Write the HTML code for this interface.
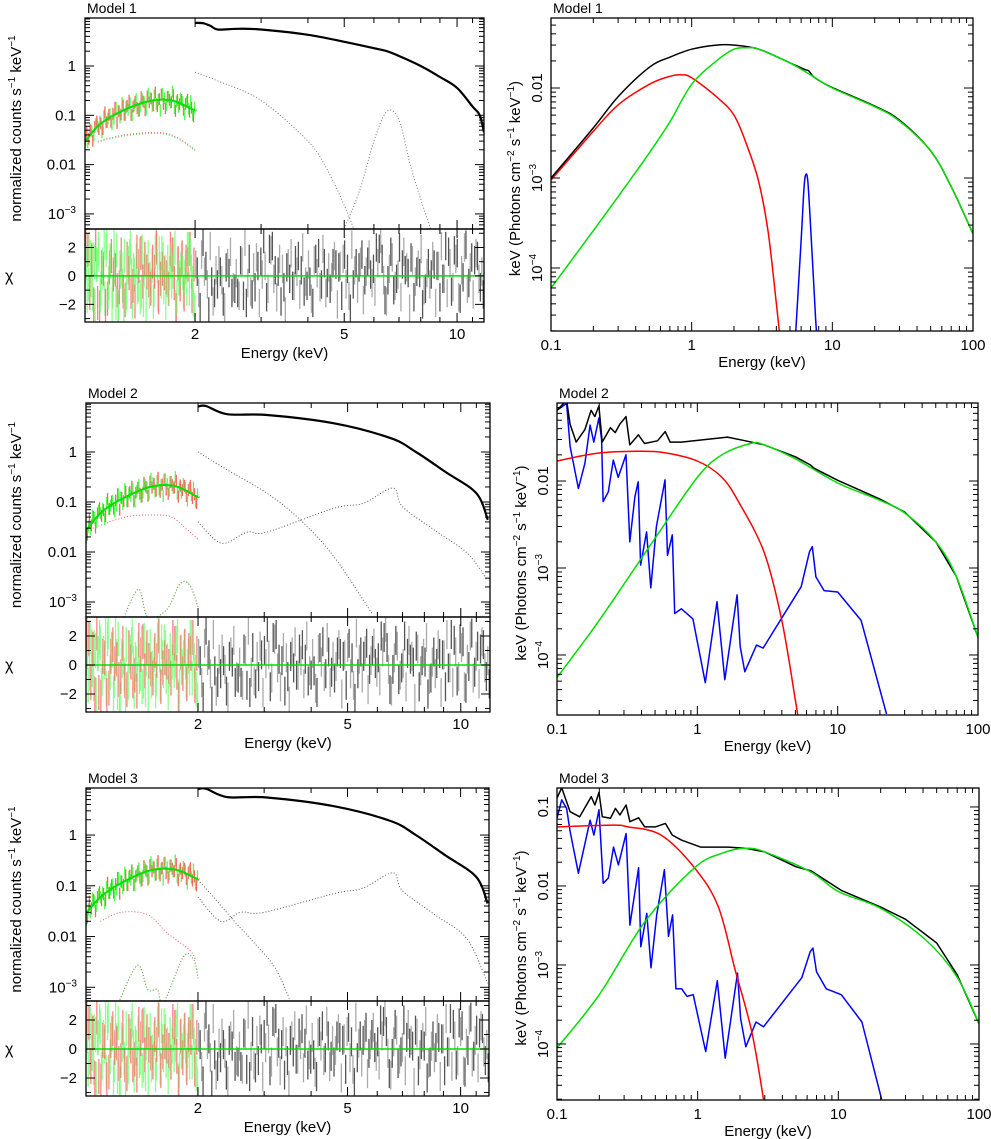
<!DOCTYPE html>
<html><head><meta charset="utf-8"><style>
html,body{margin:0;padding:0;background:#fff}
svg{display:block}
text{font-family:"Liberation Sans",sans-serif;fill:#000}
</style></head><body>
<svg id="fig" width="991" height="1139" viewBox="0 0 991 1139" xmlns="http://www.w3.org/2000/svg"></svg>
<script>
// ---------- DATA ----------
const m1DataE=[2.0,2.1,2.2,2.3,2.6,3,4,5,6,6.5,7,8,9,10,11,11.5,11.8];
const m1DataV=[7.5,7.4,6.5,5.5,5.7,5.5,4.3,3.1,2.3,2.0,1.6,1.0,0.6,0.36,0.15,0.1,0.045];
const m2DataE=[2.0,2.1,2.39,3.05,4.6,6.5,7.6,9.1,11,11.8];
const m2DataV=[8.1,8.3,5.7,5.5,3.75,1.9,1.0,0.4,0.15,0.044];
const m3DataE=[2.0,2.1,2.39,3.05,4.6,6.5,7.6,9.1,11,11.8];
const m3DataV=[8.0,8.2,5.6,5.5,3.7,1.9,1.0,0.4,0.15,0.045];
const softModelE=[1.0,1.1,1.24,1.49,1.73,1.98,2.0];
const m1SoftV=[0.024,0.06,0.11,0.19,0.2,0.13,0.13];
const m2SoftV=[0.025,0.06,0.11,0.2,0.21,0.13,0.13];
const m3SoftV=[0.027,0.06,0.11,0.2,0.21,0.14,0.14];
const m1CompAE=[2.0,2.3,3,4,4.5,5,5.3];
const m1CompAV=[0.75,0.5,0.2,0.03,0.008,0.0015,5e-4];
const m1CompBE=[5.0,5.5,6,6.5,7,7.5,8,8.5];
const m1CompBV=[5e-4,0.003,0.03,0.12,0.08,0.01,0.002,5e-4];
const m1SoftCompE=[1.1,1.3,1.6,1.8,2.0];
const m1SoftCompV=[0.03,0.04,0.045,0.035,0.02];
const m2CompAE=[2.0,2.39,3.05,3.74,4.6,5.8];
const m2CompAV=[1.0,0.44,0.15,0.044,0.008,6e-4];
const m2CompBE=[2.0,2.31,2.7,3.05,4.6,5.5,6.6,7.0,8.6,10.4,11.8];
const m2CompBV=[0.04,0.015,0.025,0.025,0.075,0.094,0.19,0.08,0.026,0.0095,0.0027];
const m2SoftCompE=[1.05,1.28,1.5,1.7,1.87,2.0];
const m2SoftCompV=[0.03,0.05,0.055,0.05,0.028,0.018];
const m2BumpE=[1.27,1.39,1.47,1.65,1.79,1.9,2.0];
const m2BumpV=[5e-4,1.8e-3,5e-4,7e-4,2.3e-3,2.2e-3,8e-4];
const m3CompAE=[2.0,2.2,2.5,2.8,3.2,3.5];
const m3CompAV=[0.13,0.06,0.02,0.008,2.5e-3,6e-4];
const m3CompBE=[2.0,2.3,2.6,3.0,4.6,5.5,6.6,7.0,8.6,10.4,11.8];
const m3CompBV=[0.06,0.02,0.03,0.03,0.07,0.09,0.18,0.08,0.026,0.009,0.0012];
const m3SoftCompE=[1.1,1.25,1.47,1.65,1.9,1.97];
const m3SoftCompV=[0.02,0.03,0.027,0.012,0.0054,0.0035];
const m3BumpE=[1.2,1.23,1.38,1.47,1.56,1.62,1.83,1.95,2.0];
const m3BumpV=[3e-4,5e-4,2.7e-3,9e-4,9e-4,5e-4,4e-3,3.5e-3,1.5e-3];
const resHard=[0.8,-1.2,1.5,0.3,-0.6,2.1,-1.8,0.4,1.1,-0.3,-2.2,0.9,1.7,-0.8,0.2,-1.4,1.0,2.4,-0.5,-1.1,0.6,1.3,-1.9,0.1,0.7,-0.9,1.8,-0.2,-1.5,1.2,0.5,-2.5,0.9,1.6,-0.7,0.3,-1.3,2.0,-0.4,0.8,-1.6,1.1,0.2,-0.8,1.9,-1.2,0.6,-0.1,1.4,-2.0,0.7,1.2,-0.6,-1.4,2.2,0.4,-0.9,1.0,-1.7,0.3,1.5,-0.5,-1.1,0.9,2.6,-0.3,-1.8,0.5,1.3,-0.7,0.1,-1.5,1.7,0.6,-2.3,1.1,-0.4,0.8,1.9,-1.0,0.2,-0.6,1.4,-1.9,0.7,2.1,-0.2,-1.2,0.9,-0.8,1.2,-1.5,0.4,2.0,-0.9,0.6,-1.3,1.6,-0.2,0.3];
const resSoft=[0.5,-1.4,1.9,-0.3,1.2,-2.1,0.8,1.5,-0.9,0.2,-1.6,2.3,-0.5,1.0,-1.1,0.6,1.8,-2.4,0.3,-0.7,1.4,-1.2,0.9,2.0,-1.8,0.1,1.1,-0.6,-1.5,1.7,0.4,-2.0,1.3,-0.2,0.7,-1.0,2.2,-1.3,0.5,1.6,-0.8,-1.9,1.0,0.2,-0.4,1.5,-2.2,0.8,-0.1,1.2,-1.1,0.6,1.9,-0.9,0.3,-1.7];
const r1BlackE=[0.1,0.2,0.3,0.5,0.7,1,1.5,2,3,5,6.4,6.8,7.5,10,20,30,50,70,100];
const r1BlackV=[1e-3,3.6e-3,8e-3,0.017,0.022,0.027,0.03,0.03,0.027,0.019,0.016,0.0155,0.013,0.0101,0.0063,0.0044,0.002,8e-4,2.4e-4];
const r1RedE=[0.1,0.2,0.3,0.5,0.7,0.85,1,1.5,2,2.5,3,3.5,4,4.2];
const r1RedV=[9.5e-4,3.3e-3,6.5e-3,0.011,0.0135,0.014,0.013,0.008,0.005,2.2e-3,9e-4,2.5e-4,4e-5,2e-5];
const r1GreenE=[0.1,0.2,0.3,0.5,0.7,1,1.5,2,2.5,3,5,7,10,20,30,50,70,100];
const r1GreenV=[6e-5,2.6e-4,6.2e-4,1.9e-3,4.2e-3,0.011,0.02,0.027,0.028,0.027,0.019,0.014,0.01,0.0062,0.0043,0.002,8e-4,2.4e-4];
const r1BlueE=[5.5,6,6.3,6.5,6.7,7,7.5,7.7];
const r1BlueV=[2e-5,2e-4,8e-4,1.1e-3,9e-4,3e-4,4e-5,2e-5];
const r2BlackE=[0.1,0.117,0.124,0.137,0.158,0.175,0.186,0.199,0.21,0.24,0.26,0.28,0.31,0.33,0.38,0.42,0.52,0.59,0.64,0.77,1.64,2.2,3,5,6.4,6.8,10,20,30,50,70,100];
const r2BlackV=[0.065,0.085,0.045,0.028,0.039,0.065,0.055,0.073,0.028,0.041,0.036,0.045,0.055,0.026,0.034,0.027,0.029,0.037,0.028,0.028,0.032,0.029,0.026,0.019,0.0153,0.014,0.0102,0.0062,0.0044,0.002,8e-4,1.6e-4];
const r2RedE=[0.1,0.2,0.4,0.6,1,1.5,2,3,4,5,5.2];
const r2RedV=[0.017,0.021,0.022,0.021,0.017,0.011,0.0055,0.0015,2.5e-4,3e-5,2e-5];
const r2GreenE=[0.1,0.2,0.5,1,1.5,2.4,3,5,10,20,30,50,70,100];
const r2GreenV=[5.5e-5,2.5e-4,2.2e-3,0.011,0.02,0.027,0.026,0.018,0.0095,0.006,0.0043,0.002,8e-4,1.6e-4];
const r2BlueE=[0.1,0.117,0.124,0.142,0.158,0.172,0.183,0.199,0.208,0.213,0.232,0.252,0.273,0.31,0.33,0.359,0.379,0.394,0.435,0.466,0.511,0.588,0.613,0.663,0.69,0.77,0.93,1.14,1.38,1.57,1.92,2.02,2.18,2.64,2.94,5.5,6.3,6.6,7.0,8.0,10,14.7,22.3];
const r2BlueV=[0.065,0.078,0.025,0.0082,0.016,0.044,0.028,0.053,0.030,0.0058,0.0075,0.0174,0.011,0.020,0.002,0.0066,0.0098,0.00108,0.0026,5.9e-4,0.003,0.0103,0.0014,0.0024,3e-4,3.4e-4,2.6e-4,4.8e-5,4.1e-4,5.2e-5,4.9e-4,1.25e-4,6.4e-5,1.3e-4,1.2e-4,6.1e-4,1.54e-3,1.76e-3,7.9e-4,5.5e-4,5.3e-4,2.5e-4,2.1e-5];
const r3BlackE=[0.1,0.108,0.124,0.145,0.175,0.186,0.199,0.21,0.24,0.26,0.28,0.31,0.33,0.38,0.42,0.5,0.59,0.66,0.77,1.05,1.64,2.2,3,5,6.4,6.8,10.5,20,30,50,70,100];
const r3BlackV=[0.13,0.175,0.087,0.075,0.135,0.106,0.153,0.075,0.072,0.096,0.079,0.106,0.065,0.073,0.056,0.056,0.062,0.044,0.038,0.031,0.031,0.03,0.027,0.0175,0.0155,0.0145,0.0088,0.0054,0.0038,0.0019,7.5e-4,1.8e-4];
const r3RedE=[0.1,0.25,0.32,0.55,0.95,1.4,1.85,2.43,2.94];
const r3RedV=[0.056,0.059,0.056,0.044,0.017,0.0055,8.6e-4,1.4e-4,2e-5];
const r3GreenE=[0.1,0.2,0.42,0.95,1.5,2.18,3,6.4,10,20,41.5,70,100];
const r3GreenV=[8.9e-5,4.2e-4,3.5e-3,0.017,0.026,0.03,0.027,0.015,0.0085,0.0052,0.0021,7e-4,1.8e-4];
const r3BlueE=[0.1,0.108,0.117,0.124,0.142,0.172,0.183,0.199,0.213,0.232,0.252,0.273,0.31,0.33,0.38,0.394,0.435,0.466,0.511,0.58,0.62,0.663,0.7,0.77,0.84,0.93,1.14,1.38,1.57,1.92,2.02,2.2,2.6,2.94,5.5,6.3,6.6,7.0,8.2,10.5,14.7,20.3];
const r3BlueV=[0.072,0.123,0.096,0.049,0.0145,0.068,0.044,0.092,0.0108,0.0126,0.031,0.0185,0.046,0.0032,0.017,0.0017,0.0045,9.2e-4,0.0043,0.016,0.0023,0.0043,5e-4,5e-4,4e-4,4.2e-4,8e-5,6.3e-4,6.6e-5,7.9e-4,2.1e-4,9.2e-5,1.9e-4,1.65e-4,6.9e-4,1.46e-3,1.64e-3,8.2e-4,5e-4,4.2e-4,1.9e-4,2e-5];
const leftXTickVals=[1,2,3,4,5,6,7,8,9,10,11,12];
const leftXTickLabels=["2","5","10"];
const rightXTickLabels=["0.1","1","10","100"];
const leftYTickLabels=["1","0.1","0.01","10^-3"];
const resTickLabels=["2","0","−2"];

// ---------- RENDER ----------
const NS="http://www.w3.org/2000/svg";
const svg=document.getElementById('fig');
function el(tag,attrs,parent){const e=document.createElementNS(NS,tag);for(const k in attrs)e.setAttribute(k,attrs[k]);(parent||svg).appendChild(e);return e;}
const L=Math.log10;
function logScale(a,b,p0,p1){return v=>p0+(L(v)-L(a))/(L(b)-L(a))*(p1-p0);}
function linScale(a,b,p0,p1){return v=>p0+(v-a)/(b-a)*(p1-p0);}
function interpLog(E,V,e){if(e<=E[0])return V[0];for(let i=1;i<E.length;i++){if(e<=E[i]){const t=(L(e)-L(E[i-1]))/(L(E[i])-L(E[i-1]));return Math.pow(10,L(V[i-1])+t*(L(V[i])-L(V[i-1])));}}return V[V.length-1];}
function pathFrom(E,V,sx,sy,smooth){
  const P=E.map((e,i)=>[sx(e),sy(V[i])]);
  if(!smooth) return 'M'+P.map(p=>p[0].toFixed(1)+','+p[1].toFixed(1)).join('L');
  let d='M'+P[0][0].toFixed(1)+','+P[0][1].toFixed(1);
  for(let i=0;i<P.length-1;i++){const p0=P[Math.max(0,i-1)],p1=P[i],p2=P[i+1],p3=P[Math.min(P.length-1,i+2)];
    const c1=[p1[0]+(p2[0]-p0[0])/6,p1[1]+(p2[1]-p0[1])/6],c2=[p2[0]-(p3[0]-p1[0])/6,p2[1]-(p3[1]-p1[1])/6];
    d+='C'+c1[0].toFixed(1)+','+c1[1].toFixed(1)+' '+c2[0].toFixed(1)+','+c2[1].toFixed(1)+' '+p2[0].toFixed(1)+','+p2[1].toFixed(1);}
  return d;}
function sup(t,base,exp){t.textContent='';const a=document.createElementNS(NS,'tspan');a.textContent=base;t.appendChild(a);const b=document.createElementNS(NS,'tspan');b.setAttribute('dy','-6');b.setAttribute('font-size','10');b.textContent=exp;t.appendChild(b);}
let clipN=0;
function clip(x0,y0,x1,y1){const id='c'+(clipN++);const cp=el('clipPath',{id:id});el('rect',{x:x0,y:y0,width:x1-x0,height:y1-y0},cp);return 'url(#'+id+')';}
function frame(g,x0,y0,x1,y1,name){const r=el('rect',{x:x0,y:y0,width:x1-x0,height:y1-y0,fill:'none',stroke:'#000','stroke-width':1.3},g);}
function yLogTicks(g,sy,a,b,x0,x1){for(let d=Math.floor(L(a))-1;d<=Math.ceil(L(b));d++){for(let m=1;m<10;m++){const v=m*Math.pow(10,d);if(v<a||v>b)continue;const y=sy(v);const len=m===1?9:5;el('line',{x1:x0,y1:y,x2:x0+len,y2:y,stroke:'#000','stroke-width':1},g);el('line',{x1:x1,y1:y,x2:x1-len,y2:y,stroke:'#000','stroke-width':1},g);}}}
function xTicks(g,sx,vals,major,yb,yt){vals.forEach(v=>{const x=sx(v);const len=major.includes(v)?9:5;el('line',{x1:x,y1:yb,x2:x,y2:yb-len,stroke:'#000'},g);el('line',{x1:x,y1:yt,x2:x,y2:yt+len,stroke:'#000'},g);});}

function leftPanel(cfg){
  const g=el('g',{});
  const sx=logScale(cfg.ea,cfg.eb,cfg.x0,cfg.x1);
  const sy=logScale(Math.pow(10,cfg.ya),Math.pow(10,cfg.yb),cfg.yBot,cfg.yTop);
  const t=el('text',{x:cfg.x0+2,y:cfg.yTop-5,'font-size':14},g);t.textContent=cfg.title;
  const cu=clip(cfg.x0,cfg.yTop,cfg.x1,cfg.yBot);
  const gu=el('g',{'clip-path':cu},g);
  cfg.comps.forEach(c=>{const p=el('path',{d:pathFrom(c[0],c[1],sx,sy,true),fill:'none',stroke:c[2],'stroke-width':1,'stroke-dasharray':'1,2'},gu);});
  const Ns=resSoft.length;
  for(let i=0;i<Ns;i++){for(let k=0;k<2;k++){const e=Math.pow(10,L(1.0)+(i+0.5*k+0.25)/Ns*(L(2.0)-L(1.0)));const m=interpLog(softModelE,cfg.soft,e);
    const r=k?resSoft[Ns-1-i]:resSoft[i];const x=sx(e);
    const b=el('line',{x1:x,y1:sy(m*Math.pow(10,0.08*(r-1.5))),x2:x,y2:sy(m*Math.pow(10,0.08*(r+1.5))),stroke:k?'#50ff50':'#ff6060','stroke-width':1.3},gu);}}
  const sm=el('path',{d:pathFrom(softModelE,cfg.soft,sx,sy,true),fill:'none',stroke:'#00e000','stroke-width':2},gu);
  const hd=el('path',{d:pathFrom(cfg.dataE,cfg.dataV,sx,sy,true),fill:'none',stroke:'#000','stroke-width':2.2},gu);
  const cr=clip(cfg.x0,cfg.y1,cfg.x1,cfg.yBot2);
  const gr=el('g',{'clip-path':cr},g);
  const srr=linScale(cfg.ra,cfg.rb,cfg.yBot2,cfg.y1);
  const Nh=resHard.length;
  for(let i=0;i<Nh;i++){for(let k=0;k<2;k++){const e=Math.pow(10,L(2.0)+(i+0.5*k+0.25)/Nh*(L(cfg.eb)-L(2.0)));const r=k?resHard[(i*7+3)%Nh]:resHard[i];const x=sx(e);
    const b=el('line',{x1:x,y1:srr(r-1),x2:x,y2:srr(r+1),stroke:k?'#555':'#aaa','stroke-width':1.3},gr);}}
  for(let i=0;i<Ns;i++){for(let k=0;k<3;k++){const e=Math.pow(10,L(cfg.ea)+(i+k/3+0.1)/Ns*(L(2.0)-L(cfg.ea)));const r=k===0?resSoft[i]:resSoft[(i*5+k*11)%Ns];const x=sx(e);
    const b=el('line',{x1:x,y1:srr(r-1.2),x2:x,y2:srr(r+1.2),stroke:k===1?'#ff6060':'#70ff70','stroke-width':1.3,'stroke-opacity':0.8},gr);}}
  const z=el('line',{x1:cfg.x0,y1:srr(0),x2:cfg.x1,y2:srr(0),stroke:'#00e000','stroke-width':1.5},gr);
  frame(g,cfg.x0,cfg.yTop,cfg.x1,cfg.yBot,'spectrum-frame');frame(g,cfg.x0,cfg.y1,cfg.x1,cfg.yBot2,'residual-frame');
  yLogTicks(g,sy,Math.pow(10,cfg.ya),Math.pow(10,cfg.yb),cfg.x0,cfg.x1);
  [-3,-2,-1,0,1,2,3].forEach(v=>{const y=srr(v);if(y<cfg.y1||y>cfg.yBot2)return;const len=v%2===0?9:5;el('line',{x1:cfg.x0,y1:y,x2:cfg.x0+len,y2:y,stroke:'#000'},g);el('line',{x1:cfg.x1,y1:y,x2:cfg.x1-len,y2:y,stroke:'#000'},g);});
  const tv=leftXTickVals.filter(v=>v>=cfg.ea&&v<=cfg.eb);
  xTicks(g,sx,tv,[2,5,10],cfg.yBot2,cfg.y1);xTicks(g,sx,tv,[2,5,10],cfg.yBot,cfg.yTop);
  [2,5,10].forEach((v,i)=>{const tt=el('text',{x:sx(v),y:cfg.yBot2+17,'font-size':15,'text-anchor':'middle'},g);tt.textContent=leftXTickLabels[i];});
  [1,0.1,0.01,0.001].forEach((v,i)=>{const tt=el('text',{x:cfg.x0-9,y:sy(v)+5,'font-size':15,'text-anchor':'end'},g);const lab=leftYTickLabels[i];if(lab.indexOf('^')>0){const p=lab.split('^');sup(tt,p[0],p[1].replace('-','−'));}else tt.textContent=lab;});
  [2,0,-2].forEach((v,i)=>{const tt=el('text',{x:cfg.x0-9,y:srr(v)+5,'font-size':15,'text-anchor':'end'},g);tt.textContent=resTickLabels[i];});
  const xl=el('text',{x:(cfg.x0+cfg.x1)/2,y:cfg.yBot2+36,'font-size':15,'text-anchor':'middle'},g);xl.textContent='Energy (keV)';
  const cy=(cfg.yTop+cfg.yBot)/2;
  const yl=el('text',{x:0,y:0,'font-size':15,'text-anchor':'middle',transform:'translate(21,'+(cy+5)+') rotate(-90)'},g);
  yl.innerHTML='normalized counts s<tspan dy="-6" font-size="10">−1</tspan><tspan dy="6"> keV</tspan><tspan dy="-6" font-size="10">−1</tspan>';
  const cl=el('text',{x:5,y:srr(0)+5,'font-size':16},g);cl.textContent='χ';
}

function rightPanel(cfg){
  const g=el('g',{});
  const sx=logScale(0.1,100,cfg.x0,cfg.x1);
  const sy=logScale(Math.pow(10,cfg.ya),Math.pow(10,cfg.yb),cfg.yBot,cfg.yTop);
  const t=el('text',{x:cfg.x0+2,y:cfg.yTop-5,'font-size':14},g);t.textContent=cfg.title;
  const cp=clip(cfg.x0,cfg.yTop,cfg.x1,cfg.yBot);const gc=el('g',{'clip-path':cp},g);
  cfg.curves.forEach(c=>{const p=el('path',{d:pathFrom(c[0],c[1],sx,sy,c[3]),fill:'none',stroke:c[2],'stroke-width':1.5,'stroke-linejoin':'round'},gc);});
  frame(g,cfg.x0,cfg.yTop,cfg.x1,cfg.yBot,'model-frame');
  yLogTicks(g,sy,Math.pow(10,cfg.ya),Math.pow(10,cfg.yb),cfg.x0,cfg.x1);
  const xv=[];for(let d=-1;d<=2;d++)for(let m=1;m<10;m++){const v=m*Math.pow(10,d);if(v<=100.01)xv.push(v);}
  xv.forEach(v=>{const x=sx(v);const len=[0.1,1,10,100].some(q=>Math.abs(q-v)<1e-9)?9:5;el('line',{x1:x,y1:cfg.yBot,x2:x,y2:cfg.yBot-len,stroke:'#000'},g);el('line',{x1:x,y1:cfg.yTop,x2:x,y2:cfg.yTop+len,stroke:'#000'},g);});
  [0.1,1,10,100].forEach((v,i)=>{const tt=el('text',{x:sx(v),y:cfg.yBot+19,'font-size':15,'text-anchor':'middle'},g);tt.textContent=rightXTickLabels[i];});
  cfg.yLabels.forEach(l=>{const y=sy(l[0]);const tt=el('text',{x:0,y:0,'font-size':15,'text-anchor':'middle',transform:'translate('+(cfg.x0-9)+','+y+') rotate(-90)'},g);if(l[2])sup(tt,l[1],l[2]);else tt.textContent=l[1];});
  const xl=el('text',{x:(cfg.x0+cfg.x1)/2,y:cfg.yBot+36,'font-size':15,'text-anchor':'middle'},g);xl.textContent='Energy (keV)';
  const cy=(cfg.yTop+cfg.yBot)/2;
  const yl=el('text',{x:0,y:0,'font-size':15,'text-anchor':'middle',transform:'translate('+(cfg.x0-31)+','+(cy+4)+') rotate(-90)'},g);
  yl.innerHTML='keV (Photons cm<tspan dy="-6" font-size="10">−2</tspan><tspan dy="6"> s</tspan><tspan dy="-6" font-size="10">−1</tspan><tspan dy="6"> keV</tspan><tspan dy="-6" font-size="10">−1</tspan><tspan dy="6">)</tspan>';
}

leftPanel({name:'model-1-counts-panel',title:'Model 1',x0:85,x1:484,yTop:18,yBot:229,y1:229,yBot2:322,ea:1.017,eb:11.8,ya:-3.306,yb:0.974,ra:-3.24,rb:3.3,
  dataE:m1DataE,dataV:m1DataV,soft:m1SoftV,comps:[[m1CompAE,m1CompAV,'#777'],[m1CompBE,m1CompBV,'#777'],[m1SoftCompE,m1SoftCompV,'#e06060'],[m1SoftCompE,m1SoftCompV.map(v=>v*0.95),'#60d060']]});
leftPanel({name:'model-2-counts-panel',title:'Model 2',x0:86,x1:490,yTop:403,yBot:617,y1:617,yBot2:712,ea:1.007,eb:11.96,ya:-3.3,yb:0.98,ra:-3.24,rb:3.31,
  dataE:m2DataE,dataV:m2DataV,soft:m2SoftV,comps:[[m2CompAE,m2CompAV,'#555'],[m2CompBE,m2CompBV,'#555'],[m2SoftCompE,m2SoftCompV,'#e06060'],[m2BumpE,m2BumpV,'#e06060'],[m2BumpE,m2BumpV,'#40c040']]});
leftPanel({name:'model-3-counts-panel',title:'Model 3',x0:86,x1:489,yTop:788,yBot:1001,y1:1001,yBot2:1096,ea:1.007,eb:11.9,ya:-3.27,yb:0.927,ra:-3.24,rb:3.31,
  dataE:m3DataE,dataV:m3DataV,soft:m3SoftV,comps:[[m3CompAE,m3CompAV,'#555'],[m3CompBE,m3CompBV,'#555'],[m3SoftCompE,m3SoftCompV,'#e06060'],[m3BumpE,m3BumpV,'#e06060'],[m3BumpE,m3BumpV,'#40c040']]});

rightPanel({name:'model-1-unfolded-panel',title:'Model 1',x0:551,x1:973,yTop:18,yBot:331,ya:-4.7,yb:-1.222,
  yLabels:[[0.01,'0.01'],[1e-3,'10','−3'],[1e-4,'10','−4']],
  curves:[[r1RedE,r1RedV,'#ff0000',true,'thermal-component'],[r1BlueE,r1BlueV,'#0000ff',true,'iron-line-component'],[r1BlackE,r1BlackV,'#000',true,'total-model'],[r1GreenE,r1GreenV,'#00dd00',true,'comptonized-component']]});
rightPanel({name:'model-2-unfolded-panel',title:'Model 2',x0:557,x1:978,yTop:403,yBot:715,ya:-4.69,yb:-1.103,
  yLabels:[[0.01,'0.01'],[1e-3,'10','−3'],[1e-4,'10','−4']],
  curves:[[r2BlueE,r2BlueV,'#0000ff',false,'reflection-component'],[r2RedE,r2RedV,'#ff0000',true,'thermal-component'],[r2BlackE,r2BlackV,'#000',false,'total-model'],[r2GreenE,r2GreenV,'#00dd00',true,'comptonized-component']]});
rightPanel({name:'model-3-unfolded-panel',title:'Model 3',x0:557,x1:979,yTop:788,yBot:1100,ya:-4.709,yb:-0.76,
  yLabels:[[0.1,'0.1'],[0.01,'0.01'],[1e-3,'10','−3'],[1e-4,'10','−4']],
  curves:[[r3BlueE,r3BlueV,'#0000ff',false,'reflection-component'],[r3RedE,r3RedV,'#ff0000',true,'thermal-component'],[r3BlackE,r3BlackV,'#000',false,'total-model'],[r3GreenE,r3GreenV,'#00dd00',true,'comptonized-component']]});
</script>
</body></html>
